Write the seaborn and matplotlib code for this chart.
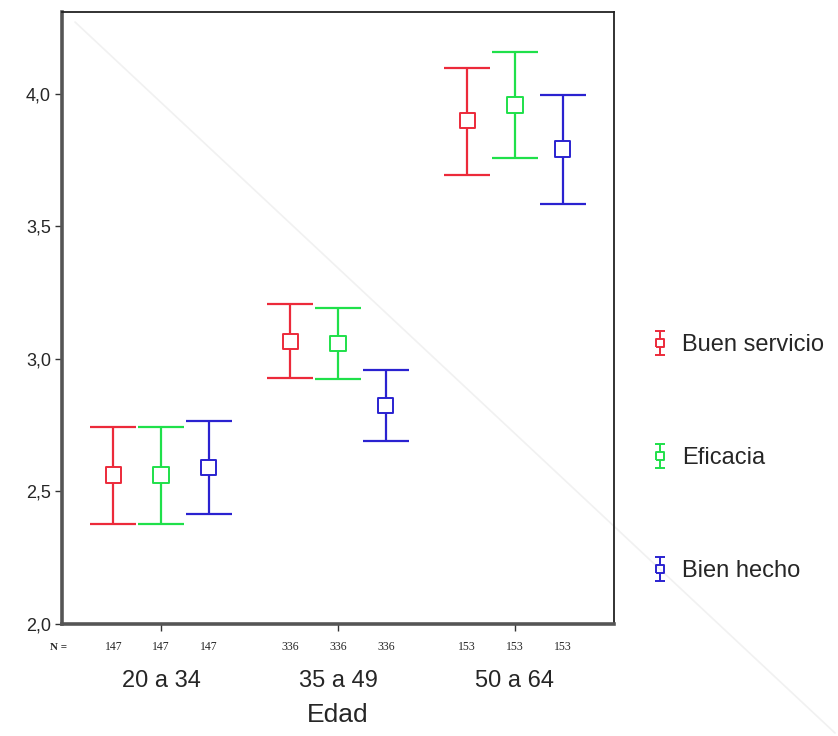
import matplotlib
matplotlib.use("Agg")
import matplotlib.pyplot as plt
import matplotlib.ticker as mticker
from matplotlib.path import Path
from matplotlib.lines import Line2D
import seaborn as sns
import pandas as pd

# ---- data ----
groups = ["20 a 34", "35 a 49", "50 a 64"]
series = ["Buen servicio", "Eficacia", "Bien hecho"]
n_counts = [147, 336, 153]
means_buen = [2.562, 3.065, 3.899]
low_buen = [2.377, 2.927, 3.694]
high_buen = [2.745, 3.208, 4.097]
means_efic = [2.562, 3.059, 3.958]
low_efic = [2.377, 2.923, 3.757]
high_efic = [2.745, 3.194, 4.157]
means_bien = [2.590, 2.824, 3.792]
low_bien = [2.414, 2.692, 3.584]
high_bien = [2.767, 2.958, 3.994]
yticks = [2.0, 2.5, 3.0, 3.5, 4.0]

colors = ["#ec2a3a", "#1fe04a", "#2a22d0"]
offsets = [-0.27, 0.0, 0.27]
cmap = dict(zip(series, colors))

rows = []
for s, m, lo, hi in zip(series,
                        [means_buen, means_efic, means_bien],
                        [low_buen, low_efic, low_bien],
                        [high_buen, high_efic, high_bien]):
    for gi, g in enumerate(groups):
        rows.append(dict(serie=s, grupo=g, gi=gi, mean=m[gi], low=lo[gi], high=hi[gi]))
df = pd.DataFrame(rows)
df["x"] = df["gi"] + df["serie"].map(dict(zip(series, offsets)))

sns.set_theme(style="white")
plt.rcParams["font.family"] = ["Liberation Sans", "DejaVu Sans"]

fig = plt.figure(figsize=(8.38, 7.36), dpi=100)
ax = fig.add_axes([62 / 838, 1 - 624 / 736, (614 - 62) / 838, (624 - 12) / 736])
ax.set_facecolor("none")

# faint diagonal across the figure
fig.add_artist(Line2D([75 / 838, 835 / 838], [1 - 22 / 736, 1 - 733 / 736],
                      transform=fig.transFigure, color="#f1f1f1", lw=1.2, zorder=-1))

for s in series:
    d = df[df["serie"] == s]
    ax.errorbar(d["x"], d["mean"],
                yerr=[d["mean"] - d["low"], d["high"] - d["mean"]],
                fmt="none", ecolor=cmap[s], elinewidth=1.6, capsize=16.5, capthick=1.6, zorder=2)

sns.scatterplot(data=df, x="x", y="mean", hue="serie", palette=cmap,
                marker="s", s=120, linewidth=1.4, ax=ax, legend=False, zorder=3)
coll = ax.collections[-1]
coll.set_edgecolors([cmap[s] for s in df["serie"]])
coll.set_facecolors("white")

ax.set_xlim(-0.56, 2.56)
ax.set_ylim(2.0, 4.309)
ax.set_yticks(yticks)
ax.yaxis.set_major_formatter(mticker.FuncFormatter(lambda v, p: f"{v:.1f}".replace(".", ",")))
ax.tick_params(axis="y", length=5, width=1, color="#333333", labelsize=13, pad=3, left=True)
ax.set_xticks(range(len(groups)))
ax.set_xticklabels(groups, fontsize=17)
ax.tick_params(axis="x", length=5, width=1, color="#333333", pad=28, bottom=True)
ax.set_xlabel("Edad", fontsize=19, labelpad=8)
ax.set_ylabel("")

for side in ["top", "right"]:
    ax.spines[side].set_color("#222222")
    ax.spines[side].set_linewidth(1.3)
for side in ["left", "bottom"]:
    ax.spines[side].set_color("#555555")
    ax.spines[side].set_linewidth(2.6)

# N row
ax.text(-0.63, -0.038, "N =", transform=ax.get_xaxis_transform(), ha="left", va="center",
        fontsize=8, family="Liberation Serif", fontweight="bold")
for gi, n in enumerate(n_counts):
    for off in offsets:
        ax.text(gi + off, -0.038, str(n), transform=ax.get_xaxis_transform(), ha="center",
                va="center", fontsize=8.5, family="Liberation Serif")

# legend marker: vertical error bar with caps and a square
verts = [(-0.42, 1), (0.42, 1), (-0.42, -1), (0.42, -1), (0, 1), (0, 0.38), (0, -0.38), (0, -1),
         (-0.38, -0.38), (0.38, -0.38), (0.38, 0.38), (-0.38, 0.38), (-0.38, -0.38)]
codes = [Path.MOVETO, Path.LINETO, Path.MOVETO, Path.LINETO, Path.MOVETO, Path.LINETO,
         Path.MOVETO, Path.LINETO, Path.MOVETO, Path.LINETO, Path.LINETO, Path.LINETO, Path.LINETO]
ebar_marker = Path(verts, codes)
handles = [Line2D([], [], linestyle="none", marker=ebar_marker, markersize=17,
                  markeredgecolor=c, markerfacecolor="none", markeredgewidth=1.4) for c in colors]

fig.legend(handles, series, loc="center left", bbox_to_anchor=(636 / 838, 1 - 458 / 736),
           frameon=False, fontsize=17, labelspacing=3.85, handlelength=1.0,
           handletextpad=0.45, borderpad=0)

fig.savefig("out.png", dpi=100)
